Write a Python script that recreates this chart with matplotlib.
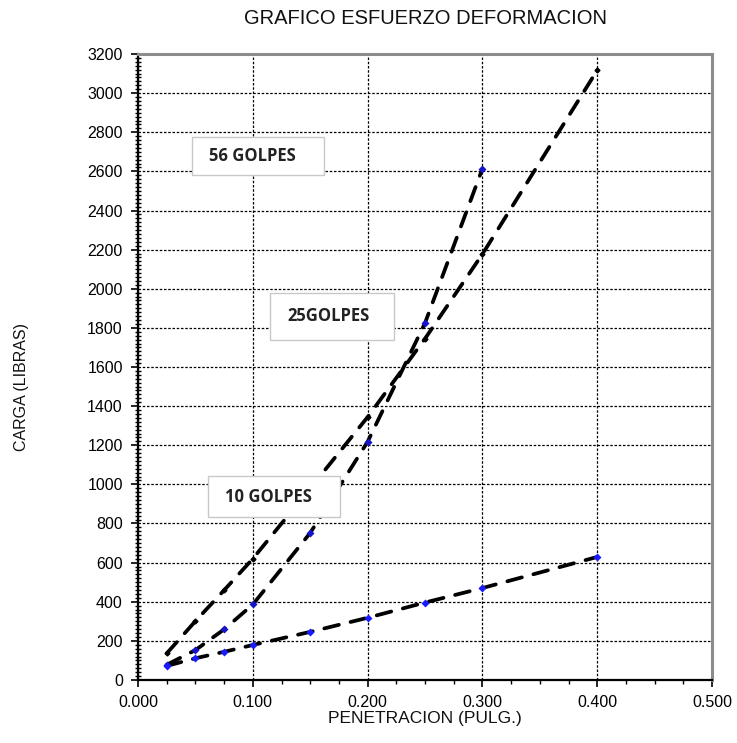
import matplotlib
matplotlib.use("Agg")
from matplotlib import pyplot as plt
from matplotlib.patches import Rectangle
from matplotlib.ticker import MultipleLocator, FormatStrFormatter

# penetracion (pulg.) y carga (libras)
pen = [0.025, 0.050, 0.075, 0.100, 0.150, 0.200, 0.250, 0.300, 0.400]
carga_56 = [136, 301, 459, 620, 980, 1344, 1745, 2177, 3117]
pen_25 = [0.025, 0.050, 0.075, 0.100, 0.150, 0.200, 0.250, 0.300]
carga_25 = [78, 153, 259, 386, 752, 1218, 1825, 2614]
carga_10 = [72, 111, 144, 179, 246, 318, 396, 470, 629]

labels = ["56 GOLPES", "25GOLPES", "10 GOLPES"]
# cajas de texto: (x0, y0, x1, y1) en coordenadas de datos
label_boxes = [(0.0470, 2582, 0.1620, 2776), (0.1150, 1740, 0.2230, 1980), (0.0610, 832, 0.1760, 1041)]

fig = plt.figure(figsize=(7.37, 7.43), dpi=100)
ax = fig.add_axes([0.1873, 0.0848, 0.9661 - 0.1873, 0.9273 - 0.0848])

line_kw = dict(color='black', lw=2.7, linestyle=(0, (4, 3.2)), dash_capstyle='round', zorder=3)
ax.plot(pen, carga_56, **line_kw)
ax.plot(pen_25, carga_25, **line_kw)
ax.plot(pen, carga_10, **line_kw)
ax.plot(pen, carga_56, 'D', color='black', ms=2.5, zorder=4)
ax.plot(pen_25, carga_25, 'D', color='#1414c8', ms=3.6, mec='none', zorder=4)
ax.plot(pen, carga_10, 'D', color='#1a1aff', ms=3.6, mec='none', zorder=4)

ax.set_xlim(0, 0.5)
ax.set_ylim(0, 3200)
ax.xaxis.set_major_locator(MultipleLocator(0.1))
ax.xaxis.set_minor_locator(MultipleLocator(0.025))
ax.yaxis.set_major_locator(MultipleLocator(200))
ax.yaxis.set_minor_locator(MultipleLocator(20))
ax.xaxis.set_major_formatter(FormatStrFormatter('%.3f'))
ax.tick_params(which='major', direction='out', length=5, width=1.2, labelsize=11.5, colors='black', pad=6)
ax.tick_params(which='minor', direction='out', length=3, width=1)
ax.tick_params(axis='y', which='minor', direction='inout', length=5)
for lab in ax.get_xticklabels() + ax.get_yticklabels():
    lab.set_fontfamily('Liberation Sans')

ax.grid(True, which='major', color='black', lw=0.9, linestyle=(0, (2, 1.4)))
ax.set_axisbelow(True)
for s in ['top', 'right']:
    ax.spines[s].set_color('#8c8c8c')
    ax.spines[s].set_linewidth(2.2)
for s in ['left', 'bottom']:
    ax.spines[s].set_color('black')
    ax.spines[s].set_linewidth(1.6)

for txt, (x0, y0, x1, y1) in zip(labels, label_boxes):
    ax.add_patch(Rectangle((x0, y0), x1 - x0, y1 - y0, fc='white', ec='#c8c8c8', lw=1.0, zorder=5))
    ax.text(x0 + 0.0148, (y0 + y1) / 2, txt, fontsize=12, fontweight='bold', family='Open Sans',
            color='#222222', ha='left', va='center', zorder=6)

fig.text(425 / 737, 1 - 18 / 743, 'GRAFICO ESFUERZO DEFORMACION', ha='center', va='center',
         fontsize=14.5, family='Liberation Sans', color='#111111')
fig.text(425 / 737, 1 - 719 / 743, 'PENETRACION (PULG.)', ha='center', va='center',
         fontsize=12.5, family='Liberation Sans', color='#111111')
fig.text(22 / 737, 1 - 387 / 743, 'CARGA (LIBRAS)', ha='center', va='center', rotation=90,
         fontsize=11.5, family='Liberation Sans', color='#111111')

fig.savefig('out.png', dpi=100)
